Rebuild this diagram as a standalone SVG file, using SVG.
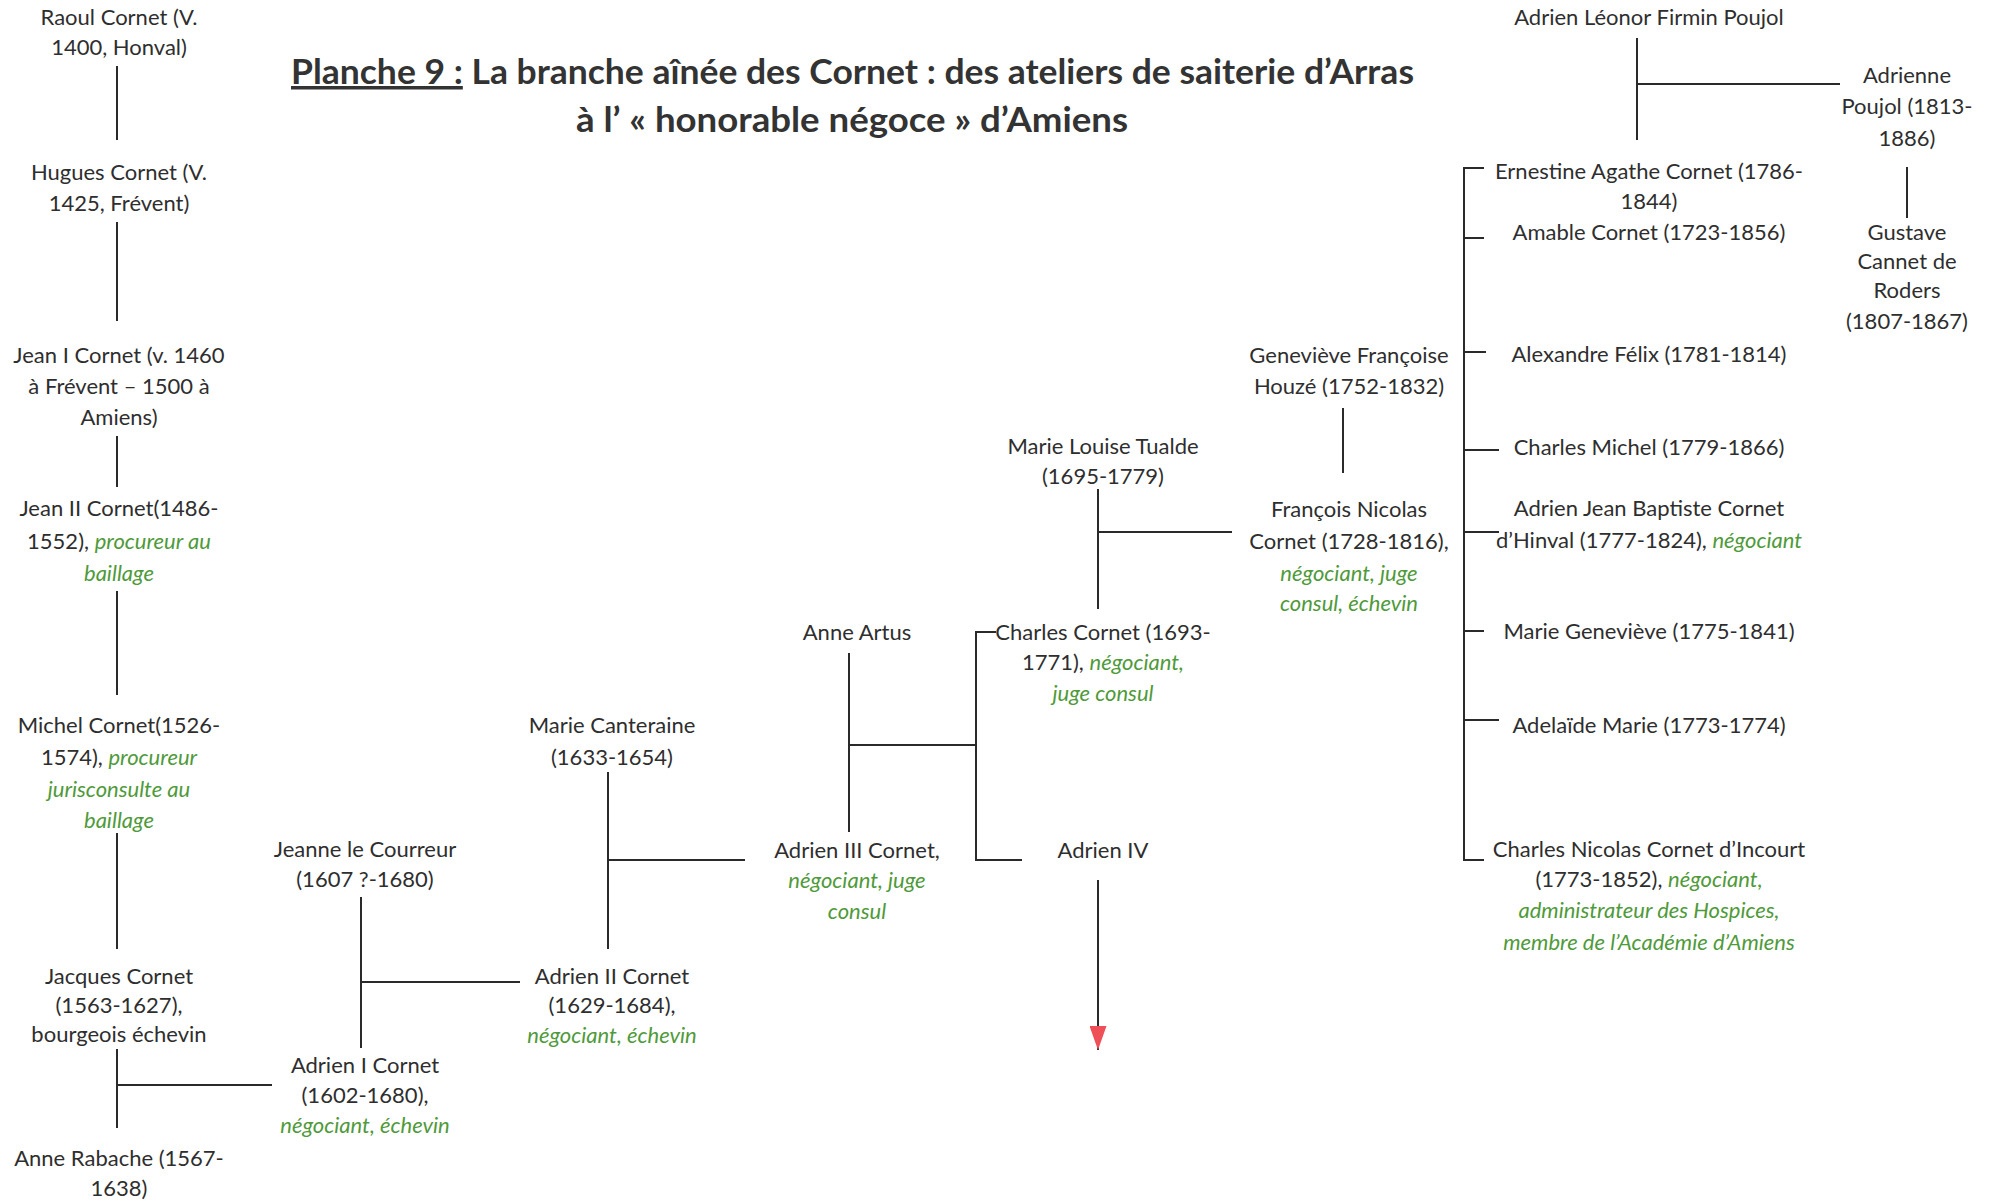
<svg xmlns="http://www.w3.org/2000/svg" width="1995" height="1201" viewBox="0 0 1995 1201">
<defs>
<style>
text{font-family:Lato,"Open Sans","Liberation Sans",sans-serif;font-size:22px;fill:#2e2e2e;text-anchor:middle}
.g{fill:#4f9a3a;font-style:italic}
.title{font-family:Lato,"Liberation Sans",sans-serif;font-weight:bold;font-size:35px;fill:#333;text-anchor:start}
.c line,.c polyline{stroke:#2a2a2a;stroke-width:2;fill:none}
.red{stroke:#ef4f57;stroke-width:2}
</style>
<marker id="ah" viewBox="0 0 24 17" refX="24" refY="8.5" markerWidth="24" markerHeight="17" markerUnits="userSpaceOnUse" orient="auto" preserveAspectRatio="none">
<path d="M0,0 L24,8.5 L0,17 z" fill="#ef4f57"/>
</marker>
</defs>
<rect width="1995" height="1201" fill="#fff"/>

<g id="title">
<text class="title" x="291" y="84" textLength="1123" lengthAdjust="spacingAndGlyphs"><tspan text-decoration="underline">Planche 9 :</tspan> La branche aînée des Cornet : des ateliers de saiterie d’Arras</text>
<text class="title" x="576" y="132" textLength="552" lengthAdjust="spacingAndGlyphs">à l’ « honorable négoce » d’Amiens</text>
</g>

<g class="c" id="connectors">
<line x1="117" y1="66" x2="117" y2="140"/>
<line x1="117" y1="222" x2="117" y2="321"/>
<line x1="117" y1="436" x2="117" y2="487"/>
<line x1="117" y1="591" x2="117" y2="695"/>
<line x1="117" y1="833" x2="117" y2="949"/>
<line x1="117" y1="1049" x2="117" y2="1128"/>
<line x1="117" y1="1085" x2="272" y2="1085"/>
<line x1="361" y1="897" x2="361" y2="1048"/>
<line x1="361" y1="982" x2="520" y2="982"/>
<line x1="608" y1="772" x2="608" y2="949"/>
<line x1="608" y1="860" x2="745" y2="860"/>
<line x1="849" y1="653" x2="849" y2="832"/>
<line x1="849" y1="745" x2="976" y2="745"/>
<polyline points="996,632 976,632 976,860 1022,860"/>
<line x1="1098" y1="489" x2="1098" y2="609"/>
<line x1="1098" y1="532" x2="1232" y2="532"/>
<line x1="1343" y1="408" x2="1343" y2="473"/>
<polyline points="1484,168 1464,168 1464,860 1484,860"/>
<line x1="1464" y1="238" x2="1484" y2="238"/>
<line x1="1464" y1="352" x2="1486" y2="352"/>
<line x1="1464" y1="450" x2="1499" y2="450"/>
<line x1="1464" y1="532" x2="1499" y2="532"/>
<line x1="1464" y1="631" x2="1484" y2="631"/>
<line x1="1464" y1="720" x2="1499" y2="720"/>
<line x1="1637" y1="38" x2="1637" y2="140"/>
<line x1="1637" y1="84" x2="1840" y2="84"/>
<line x1="1907" y1="167" x2="1907" y2="218"/>
<line class="red" x1="1098" y1="880" x2="1098" y2="1050" marker-end="url(#ah)"/>
</g>

<g id="raoul"><text x="119" y="25">Raoul Cornet (V.</text><text x="119" y="55">1400, Honval)</text></g>
<g id="hugues"><text x="119" y="180">Hugues Cornet (V.</text><text x="119" y="211">1425, Frévent)</text></g>
<g id="jean1"><text x="119" y="363">Jean I Cornet (v. 1460</text><text x="119" y="394">à Frévent – 1500 à</text><text x="119" y="425">Amiens)</text></g>
<g id="jean2"><text x="119" y="516">Jean II Cornet(1486-</text><text x="119" y="549">1552), <tspan class="g">procureur au</tspan></text><text x="119" y="581" class="g">baillage</text></g>
<g id="michel"><text x="119" y="733">Michel Cornet(1526-</text><text x="119" y="765">1574), <tspan class="g">procureur</tspan></text><text x="119" y="797" class="g">jurisconsulte au</text><text x="119" y="828" class="g">baillage</text></g>
<g id="jacques"><text x="119" y="984">Jacques Cornet</text><text x="119" y="1013">(1563-1627),</text><text x="119" y="1042">bourgeois échevin</text></g>
<g id="anne-rabache"><text x="119" y="1166">Anne Rabache (1567-</text><text x="119" y="1196">1638)</text></g>

<g id="jeanne"><text x="365" y="857">Jeanne le Courreur</text><text x="365" y="887">(1607 ?-1680)</text></g>
<g id="adrien1"><text x="365" y="1073">Adrien I Cornet</text><text x="365" y="1103">(1602-1680),</text><text x="365" y="1133" class="g">négociant, échevin</text></g>
<g id="marie-canteraine"><text x="612" y="733">Marie Canteraine</text><text x="612" y="765">(1633-1654)</text></g>
<g id="adrien2"><text x="612" y="984">Adrien II Cornet</text><text x="612" y="1013">(1629-1684),</text><text x="612" y="1043" class="g">négociant, échevin</text></g>
<g id="anne-artus"><text x="857" y="640">Anne Artus</text></g>
<g id="adrien3"><text x="857" y="858">Adrien III Cornet,</text><text x="857" y="888" class="g">négociant, juge</text><text x="857" y="919" class="g">consul</text></g>
<g id="adrien4"><text x="1103" y="858">Adrien IV</text></g>
<g id="charles"><text x="1103" y="640">Charles Cornet (1693-</text><text x="1103" y="670">1771), <tspan class="g">négociant,</tspan></text><text x="1103" y="701" class="g">juge consul</text></g>
<g id="marie-louise"><text x="1103" y="454">Marie Louise Tualde</text><text x="1103" y="484">(1695-1779)</text></g>
<g id="francois"><text x="1349" y="517">François Nicolas</text><text x="1349" y="549">Cornet (1728-1816),</text><text x="1349" y="581" class="g">négociant, juge</text><text x="1349" y="611" class="g">consul, échevin</text></g>
<g id="genevieve"><text x="1349" y="363">Geneviève Françoise</text><text x="1349" y="394">Houzé (1752-1832)</text></g>

<g id="poujol"><text x="1649" y="25">Adrien Léonor Firmin Poujol</text></g>
<g id="adrienne"><text x="1907" y="83">Adrienne</text><text x="1907" y="114">Poujol (1813-</text><text x="1907" y="146">1886)</text></g>
<g id="gustave"><text x="1907" y="240">Gustave</text><text x="1907" y="269">Cannet de</text><text x="1907" y="298">Roders</text><text x="1907" y="329">(1807-1867)</text></g>
<g id="ernestine"><text x="1649" y="179">Ernestine Agathe Cornet (1786-</text><text x="1649" y="209">1844)</text></g>
<g id="amable"><text x="1649" y="240">Amable Cornet (1723-1856)</text></g>
<g id="alexandre"><text x="1649" y="362">Alexandre Félix (1781-1814)</text></g>
<g id="charles-michel"><text x="1649" y="455">Charles Michel (1779-1866)</text></g>
<g id="adrien-jb"><text x="1649" y="516">Adrien Jean Baptiste Cornet</text><text x="1649" y="548">d’Hinval (1777-1824), <tspan class="g">négociant</tspan></text></g>
<g id="marie-genevieve"><text x="1649" y="639">Marie Geneviève (1775-1841)</text></g>
<g id="adelaide"><text x="1649" y="733">Adelaïde Marie (1773-1774)</text></g>
<g id="charles-nicolas"><text x="1649" y="857">Charles Nicolas Cornet d’Incourt</text><text x="1649" y="887">(1773-1852), <tspan class="g">négociant,</tspan></text><text x="1649" y="918" class="g">administrateur des Hospices,</text><text x="1649" y="950" class="g">membre de l’Académie d’Amiens</text></g>
</svg>
